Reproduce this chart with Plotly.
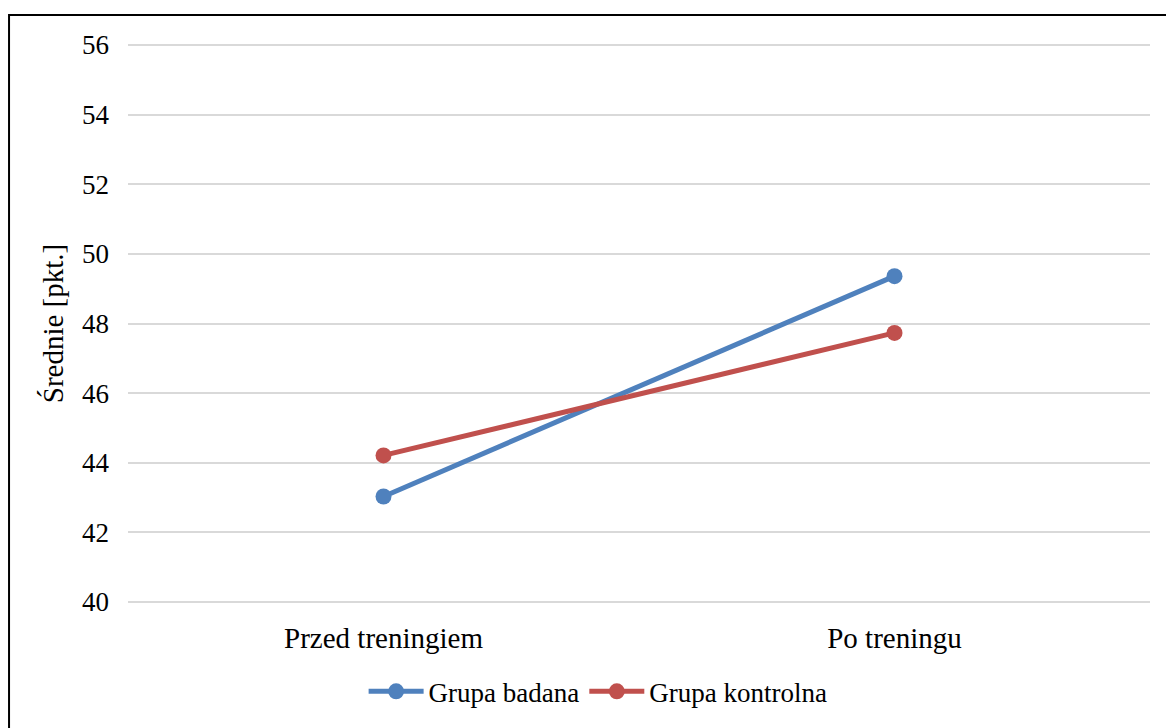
import plotly.graph_objects as go

categories = ["Przed treningiem", "Po treningu"]
grupa_badana = [43.03, 49.36]
grupa_kontrolna = [44.21, 47.73]
y_ticks = [40, 42, 44, 46, 48, 50, 52, 54, 56]

FONT = "Liberation Serif"

fig = go.Figure()
fig.add_trace(go.Scatter(
    x=categories, y=grupa_badana, name="Grupa badana", mode="lines+markers",
    line=dict(color="#4F81BD", width=5), marker=dict(size=16, color="#4F81BD"),
))
fig.add_trace(go.Scatter(
    x=categories, y=grupa_kontrolna, name="Grupa kontrolna", mode="lines+markers",
    line=dict(color="#C0504D", width=5), marker=dict(size=16, color="#C0504D"),
))

fig.update_layout(
    width=1166, height=728,
    margin=dict(l=128, r=16, t=44, b=125, autoexpand=False),
    paper_bgcolor="white", plot_bgcolor="white",
    font=dict(family=FONT, color="black", size=27),
    showlegend=True,
    legend=dict(orientation="h", x=0.46, xanchor="center", y=-0.115, yanchor="top",
                font=dict(family=FONT, size=27, color="black"), itemwidth=55,
                traceorder="normal"),
    xaxis=dict(type="category", range=[-0.5, 1.5], showgrid=False, showline=False,
               ticks="", tickfont=dict(family=FONT, size=29, color="black"),
               ticklabelstandoff=15),
    yaxis=dict(range=[39.97, 56.03], tickvals=y_ticks, showgrid=True, gridcolor="#D9D9D9",
               gridwidth=2, zeroline=False, showline=False, ticks="",
               tickfont=dict(family=FONT, size=27, color="black"), ticklabelstandoff=18,
               title=dict(text="Średnie [pkt.]", font=dict(family=FONT, size=29, color="black"),
                          standoff=9)),
    shapes=[dict(type="rect", xref="paper", yref="paper",
                 x0=-0.1164, x1=1.2, y0=-0.4, y1=1.052,
                 line=dict(color="black", width=2), fillcolor="rgba(0,0,0,0)")],
)

fig.write_html("out.html")
